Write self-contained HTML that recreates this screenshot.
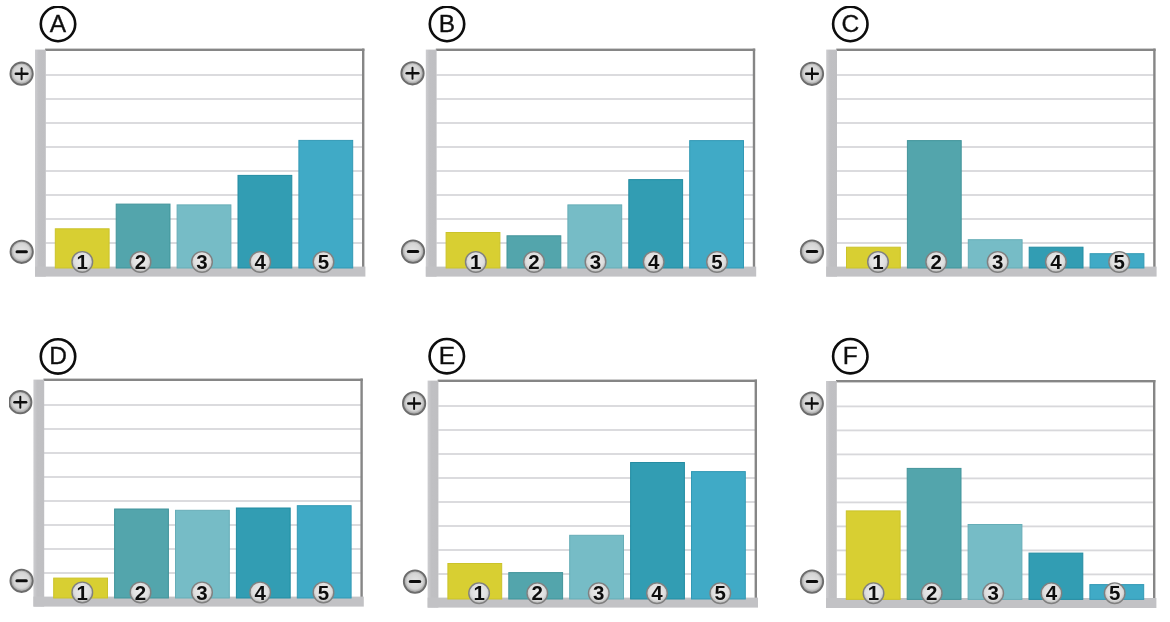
<!DOCTYPE html>
<html lang="en"><head><meta charset="utf-8"><title>Bar charts A-F</title>
<style>
html,body{margin:0;padding:0;background:#fff;}
body{width:1170px;height:622px;overflow:hidden;}
svg{display:block;}
text{font-family:"Liberation Sans",Arial,sans-serif;}
.lt{font-size:24.5px;fill:#111;stroke:#111;stroke-width:0.35px;text-anchor:middle;}
.nm{font-size:20.5px;font-weight:bold;fill:#111;text-anchor:middle;}
</style></head><body>
<svg width="1170" height="622" viewBox="0 0 1170 622">
<defs>
<radialGradient id="gb" cx="50%" cy="45%" r="55%">
<stop offset="0" stop-color="#eeeeee"/><stop offset="0.7" stop-color="#dedede"/><stop offset="1" stop-color="#b4b4b4"/>
</radialGradient>
<radialGradient id="gi" cx="50%" cy="48%" r="52%">
<stop offset="0" stop-color="#e4e4e4"/><stop offset="0.68" stop-color="#d4d4d4"/><stop offset="1" stop-color="#8e8e8e"/>
</radialGradient>
<linearGradient id="ax" x1="0" x2="1" y1="0" y2="0">
<stop offset="0" stop-color="#cdcdd0"/><stop offset="0.35" stop-color="#c0c0c3"/><stop offset="1" stop-color="#bfbfc2"/>
</linearGradient>
<filter id="soft" x="0" y="0" width="100%" height="100%"><feGaussianBlur stdDeviation="0.45"/></filter>
</defs>
<rect width="1170" height="622" fill="#fff"/>
<g filter="url(#soft)">

<g transform="translate(0.0,0.0)">
<rect x="45.6" y="74.1" width="317" height="1.8" fill="#d8d8db"/>
<rect x="45.6" y="98.1" width="317" height="1.8" fill="#d8d8db"/>
<rect x="45.6" y="122.1" width="317" height="1.8" fill="#d8d8db"/>
<rect x="45.6" y="146.1" width="317" height="1.8" fill="#d8d8db"/>
<rect x="45.6" y="170.1" width="317" height="1.8" fill="#d8d8db"/>
<rect x="45.6" y="194.1" width="317" height="1.8" fill="#d8d8db"/>
<rect x="45.6" y="218.1" width="317" height="1.8" fill="#d8d8db"/>
<rect x="45.6" y="242.1" width="317" height="1.8" fill="#d8d8db"/>
<rect x="45" y="48.6" width="319.4" height="2.4" fill="#868686"/>
<rect x="362.0" y="48.6" width="2.4" height="219" fill="#868686"/>
<rect x="35" y="49.6" width="10.8" height="227" fill="url(#ax)"/>
<rect x="35" y="266.6" width="330.4" height="10" fill="#c2c2c5"/>
<rect x="55.3" y="228.8" width="53.8" height="39.2" fill="#d8cf30" stroke="#cbc32c" stroke-width="1"/>
<rect x="116.2" y="204.1" width="53.8" height="63.9" fill="#52a5ac" stroke="#43949b" stroke-width="1"/>
<rect x="177.1" y="204.9" width="53.8" height="63.1" fill="#76bcc6" stroke="#66adb7" stroke-width="1"/>
<rect x="238.0" y="175.4" width="53.8" height="92.6" fill="#309db3" stroke="#258ca2" stroke-width="1"/>
<rect x="298.9" y="140.4" width="53.8" height="127.6" fill="#40aac6" stroke="#3399b5" stroke-width="1"/>
</g>
<circle cx="82.3" cy="261.9" r="10.3" fill="url(#gb)" stroke="#808080" stroke-width="1.4"/>
<text class="nm" x="82.3" y="269.1">1</text>
<circle cx="140.5" cy="261.9" r="10.3" fill="url(#gb)" stroke="#808080" stroke-width="1.4"/>
<text class="nm" x="140.5" y="269.1">2</text>
<circle cx="202.0" cy="261.9" r="10.3" fill="url(#gb)" stroke="#808080" stroke-width="1.4"/>
<text class="nm" x="202.0" y="269.1">3</text>
<circle cx="260.2" cy="261.9" r="10.3" fill="url(#gb)" stroke="#808080" stroke-width="1.4"/>
<text class="nm" x="260.2" y="269.1">4</text>
<circle cx="323.5" cy="261.9" r="10.3" fill="url(#gb)" stroke="#808080" stroke-width="1.4"/>
<text class="nm" x="323.5" y="269.1">5</text>
<circle cx="58.0" cy="24.0" r="17.2" fill="#fff" stroke="#0a0a0a" stroke-width="2.6"/>
<text class="lt" x="58.0" y="31.6">A</text>
<circle cx="21.6" cy="73.7" r="11.2" fill="url(#gi)" stroke="#6c6c6c" stroke-width="1.8"/>
<path d="M15.8 73.7H27.4" stroke="#111" stroke-width="2.5" stroke-linecap="round" fill="none"/>
<path d="M21.6 68.2V79.2" stroke="#111" stroke-width="2.0" stroke-linecap="round" fill="none"/>
<circle cx="21.7" cy="251.8" r="11.2" fill="url(#gi)" stroke="#6c6c6c" stroke-width="1.8"/>
<path d="M17.0 251.8H26.4" stroke="#111" stroke-width="3" stroke-linecap="round" fill="none"/>
<g transform="translate(390.8,0.0)">
<rect x="45.6" y="74.1" width="317" height="1.8" fill="#d8d8db"/>
<rect x="45.6" y="98.1" width="317" height="1.8" fill="#d8d8db"/>
<rect x="45.6" y="122.1" width="317" height="1.8" fill="#d8d8db"/>
<rect x="45.6" y="146.1" width="317" height="1.8" fill="#d8d8db"/>
<rect x="45.6" y="170.1" width="317" height="1.8" fill="#d8d8db"/>
<rect x="45.6" y="194.1" width="317" height="1.8" fill="#d8d8db"/>
<rect x="45.6" y="218.1" width="317" height="1.8" fill="#d8d8db"/>
<rect x="45.6" y="242.1" width="317" height="1.8" fill="#d8d8db"/>
<rect x="45" y="48.6" width="319.4" height="2.4" fill="#868686"/>
<rect x="362.0" y="48.6" width="2.4" height="219" fill="#868686"/>
<rect x="35" y="49.6" width="10.8" height="227" fill="url(#ax)"/>
<rect x="35" y="266.6" width="330.4" height="10" fill="#c2c2c5"/>
<rect x="55.3" y="232.5" width="53.8" height="35.5" fill="#d8cf30" stroke="#cbc32c" stroke-width="1"/>
<rect x="116.2" y="235.8" width="53.8" height="32.2" fill="#52a5ac" stroke="#43949b" stroke-width="1"/>
<rect x="177.1" y="204.9" width="53.8" height="63.1" fill="#76bcc6" stroke="#66adb7" stroke-width="1"/>
<rect x="238.0" y="179.6" width="53.8" height="88.4" fill="#309db3" stroke="#258ca2" stroke-width="1"/>
<rect x="298.9" y="140.6" width="53.8" height="127.4" fill="#40aac6" stroke="#3399b5" stroke-width="1"/>
</g>
<circle cx="475.8" cy="261.9" r="10.3" fill="url(#gb)" stroke="#808080" stroke-width="1.4"/>
<text class="nm" x="475.8" y="269.1">1</text>
<circle cx="534.0" cy="261.9" r="10.3" fill="url(#gb)" stroke="#808080" stroke-width="1.4"/>
<text class="nm" x="534.0" y="269.1">2</text>
<circle cx="595.5" cy="261.9" r="10.3" fill="url(#gb)" stroke="#808080" stroke-width="1.4"/>
<text class="nm" x="595.5" y="269.1">3</text>
<circle cx="653.7" cy="261.9" r="10.3" fill="url(#gb)" stroke="#808080" stroke-width="1.4"/>
<text class="nm" x="653.7" y="269.1">4</text>
<circle cx="717.0" cy="261.9" r="10.3" fill="url(#gb)" stroke="#808080" stroke-width="1.4"/>
<text class="nm" x="717.0" y="269.1">5</text>
<circle cx="447.0" cy="24.0" r="17.2" fill="#fff" stroke="#0a0a0a" stroke-width="2.6"/>
<text class="lt" x="447.0" y="31.6">B</text>
<circle cx="412.5" cy="73.3" r="11.2" fill="url(#gi)" stroke="#6c6c6c" stroke-width="1.8"/>
<path d="M406.7 73.3H418.3" stroke="#111" stroke-width="2.5" stroke-linecap="round" fill="none"/>
<path d="M412.5 67.8V78.8" stroke="#111" stroke-width="2.0" stroke-linecap="round" fill="none"/>
<circle cx="413.0" cy="251.6" r="11.2" fill="url(#gi)" stroke="#6c6c6c" stroke-width="1.8"/>
<path d="M408.3 251.6H417.7" stroke="#111" stroke-width="3" stroke-linecap="round" fill="none"/>
<g transform="translate(791.2,0.0)">
<rect x="45.6" y="74.1" width="317" height="1.8" fill="#d8d8db"/>
<rect x="45.6" y="98.1" width="317" height="1.8" fill="#d8d8db"/>
<rect x="45.6" y="122.1" width="317" height="1.8" fill="#d8d8db"/>
<rect x="45.6" y="146.1" width="317" height="1.8" fill="#d8d8db"/>
<rect x="45.6" y="170.1" width="317" height="1.8" fill="#d8d8db"/>
<rect x="45.6" y="194.1" width="317" height="1.8" fill="#d8d8db"/>
<rect x="45.6" y="218.1" width="317" height="1.8" fill="#d8d8db"/>
<rect x="45.6" y="242.1" width="317" height="1.8" fill="#d8d8db"/>
<rect x="45" y="48.6" width="319.4" height="2.4" fill="#868686"/>
<rect x="362.0" y="48.6" width="2.4" height="219" fill="#868686"/>
<rect x="35" y="49.6" width="10.8" height="227" fill="url(#ax)"/>
<rect x="35" y="266.6" width="330.4" height="10" fill="#c2c2c5"/>
<rect x="55.3" y="247.2" width="53.8" height="20.8" fill="#d8cf30" stroke="#cbc32c" stroke-width="1"/>
<rect x="116.2" y="140.6" width="53.8" height="127.4" fill="#52a5ac" stroke="#43949b" stroke-width="1"/>
<rect x="177.1" y="239.7" width="53.8" height="28.3" fill="#76bcc6" stroke="#66adb7" stroke-width="1"/>
<rect x="238.0" y="247.2" width="53.8" height="20.8" fill="#309db3" stroke="#258ca2" stroke-width="1"/>
<rect x="298.9" y="253.7" width="53.8" height="14.3" fill="#40aac6" stroke="#3399b5" stroke-width="1"/>
</g>
<circle cx="878.0" cy="261.9" r="10.3" fill="url(#gb)" stroke="#808080" stroke-width="1.4"/>
<text class="nm" x="878.0" y="269.1">1</text>
<circle cx="936.2" cy="261.9" r="10.3" fill="url(#gb)" stroke="#808080" stroke-width="1.4"/>
<text class="nm" x="936.2" y="269.1">2</text>
<circle cx="997.7" cy="261.9" r="10.3" fill="url(#gb)" stroke="#808080" stroke-width="1.4"/>
<text class="nm" x="997.7" y="269.1">3</text>
<circle cx="1055.9" cy="261.9" r="10.3" fill="url(#gb)" stroke="#808080" stroke-width="1.4"/>
<text class="nm" x="1055.9" y="269.1">4</text>
<circle cx="1119.2" cy="261.9" r="10.3" fill="url(#gb)" stroke="#808080" stroke-width="1.4"/>
<text class="nm" x="1119.2" y="269.1">5</text>
<circle cx="850.3" cy="24.0" r="17.2" fill="#fff" stroke="#0a0a0a" stroke-width="2.6"/>
<text class="lt" x="850.3" y="31.6">C</text>
<circle cx="812.0" cy="73.8" r="11.2" fill="url(#gi)" stroke="#6c6c6c" stroke-width="1.8"/>
<path d="M806.2 73.8H817.8" stroke="#111" stroke-width="2.5" stroke-linecap="round" fill="none"/>
<path d="M812.0 68.3V79.3" stroke="#111" stroke-width="2.0" stroke-linecap="round" fill="none"/>
<circle cx="812.0" cy="251.6" r="11.2" fill="url(#gi)" stroke="#6c6c6c" stroke-width="1.8"/>
<path d="M807.3 251.6H816.7" stroke="#111" stroke-width="3" stroke-linecap="round" fill="none"/>
<g transform="translate(-1.6,330.0)">
<rect x="45.6" y="74.1" width="317" height="1.8" fill="#d8d8db"/>
<rect x="45.6" y="98.1" width="317" height="1.8" fill="#d8d8db"/>
<rect x="45.6" y="122.1" width="317" height="1.8" fill="#d8d8db"/>
<rect x="45.6" y="146.1" width="317" height="1.8" fill="#d8d8db"/>
<rect x="45.6" y="170.1" width="317" height="1.8" fill="#d8d8db"/>
<rect x="45.6" y="194.1" width="317" height="1.8" fill="#d8d8db"/>
<rect x="45.6" y="218.1" width="317" height="1.8" fill="#d8d8db"/>
<rect x="45.6" y="242.1" width="317" height="1.8" fill="#d8d8db"/>
<rect x="45" y="48.6" width="319.4" height="2.4" fill="#868686"/>
<rect x="362.0" y="48.6" width="2.4" height="219" fill="#868686"/>
<rect x="35" y="49.6" width="10.8" height="227" fill="url(#ax)"/>
<rect x="35" y="266.6" width="330.4" height="10" fill="#c2c2c5"/>
<rect x="55.3" y="248.1" width="53.8" height="19.9" fill="#d8cf30" stroke="#cbc32c" stroke-width="1"/>
<rect x="116.2" y="179.0" width="53.8" height="89.0" fill="#52a5ac" stroke="#43949b" stroke-width="1"/>
<rect x="177.1" y="180.3" width="53.8" height="87.7" fill="#76bcc6" stroke="#66adb7" stroke-width="1"/>
<rect x="238.0" y="178.0" width="53.8" height="90.0" fill="#309db3" stroke="#258ca2" stroke-width="1"/>
<rect x="298.9" y="175.7" width="53.8" height="92.3" fill="#40aac6" stroke="#3399b5" stroke-width="1"/>
</g>
<circle cx="82.3" cy="592.4" r="10.3" fill="url(#gb)" stroke="#808080" stroke-width="1.4"/>
<text class="nm" x="82.3" y="599.6">1</text>
<circle cx="140.5" cy="592.4" r="10.3" fill="url(#gb)" stroke="#808080" stroke-width="1.4"/>
<text class="nm" x="140.5" y="599.6">2</text>
<circle cx="202.0" cy="592.4" r="10.3" fill="url(#gb)" stroke="#808080" stroke-width="1.4"/>
<text class="nm" x="202.0" y="599.6">3</text>
<circle cx="260.2" cy="592.4" r="10.3" fill="url(#gb)" stroke="#808080" stroke-width="1.4"/>
<text class="nm" x="260.2" y="599.6">4</text>
<circle cx="323.5" cy="592.4" r="10.3" fill="url(#gb)" stroke="#808080" stroke-width="1.4"/>
<text class="nm" x="323.5" y="599.6">5</text>
<circle cx="58.0" cy="356.4" r="17.2" fill="#fff" stroke="#0a0a0a" stroke-width="2.6"/>
<text class="lt" x="58.0" y="364.0">D</text>
<circle cx="20.3" cy="402.2" r="11.2" fill="url(#gi)" stroke="#6c6c6c" stroke-width="1.8"/>
<path d="M14.5 402.2H26.1" stroke="#111" stroke-width="2.5" stroke-linecap="round" fill="none"/>
<path d="M20.3 396.7V407.7" stroke="#111" stroke-width="2.0" stroke-linecap="round" fill="none"/>
<circle cx="21.6" cy="580.8" r="11.2" fill="url(#gi)" stroke="#6c6c6c" stroke-width="1.8"/>
<path d="M16.9 580.8H26.3" stroke="#111" stroke-width="3" stroke-linecap="round" fill="none"/>
<g transform="translate(392.6,331.0)">
<rect x="45.6" y="74.1" width="317" height="1.8" fill="#d8d8db"/>
<rect x="45.6" y="98.1" width="317" height="1.8" fill="#d8d8db"/>
<rect x="45.6" y="122.1" width="317" height="1.8" fill="#d8d8db"/>
<rect x="45.6" y="146.1" width="317" height="1.8" fill="#d8d8db"/>
<rect x="45.6" y="170.1" width="317" height="1.8" fill="#d8d8db"/>
<rect x="45.6" y="194.1" width="317" height="1.8" fill="#d8d8db"/>
<rect x="45.6" y="218.1" width="317" height="1.8" fill="#d8d8db"/>
<rect x="45.6" y="242.1" width="317" height="1.8" fill="#d8d8db"/>
<rect x="45" y="48.6" width="319.4" height="2.4" fill="#868686"/>
<rect x="362.0" y="48.6" width="2.4" height="219" fill="#868686"/>
<rect x="35" y="49.6" width="10.8" height="227" fill="url(#ax)"/>
<rect x="35" y="266.6" width="330.4" height="10" fill="#c2c2c5"/>
<rect x="55.3" y="232.5" width="53.8" height="35.5" fill="#d8cf30" stroke="#cbc32c" stroke-width="1"/>
<rect x="116.2" y="241.6" width="53.8" height="26.4" fill="#52a5ac" stroke="#43949b" stroke-width="1"/>
<rect x="177.1" y="204.3" width="53.8" height="63.7" fill="#76bcc6" stroke="#66adb7" stroke-width="1"/>
<rect x="238.0" y="131.5" width="53.8" height="136.5" fill="#309db3" stroke="#258ca2" stroke-width="1"/>
<rect x="298.9" y="140.6" width="53.8" height="127.4" fill="#40aac6" stroke="#3399b5" stroke-width="1"/>
</g>
<circle cx="479.1" cy="593.2" r="10.3" fill="url(#gb)" stroke="#808080" stroke-width="1.4"/>
<text class="nm" x="479.1" y="600.4">1</text>
<circle cx="537.3" cy="593.2" r="10.3" fill="url(#gb)" stroke="#808080" stroke-width="1.4"/>
<text class="nm" x="537.3" y="600.4">2</text>
<circle cx="598.8" cy="593.2" r="10.3" fill="url(#gb)" stroke="#808080" stroke-width="1.4"/>
<text class="nm" x="598.8" y="600.4">3</text>
<circle cx="657.0" cy="593.2" r="10.3" fill="url(#gb)" stroke="#808080" stroke-width="1.4"/>
<text class="nm" x="657.0" y="600.4">4</text>
<circle cx="720.3" cy="593.2" r="10.3" fill="url(#gb)" stroke="#808080" stroke-width="1.4"/>
<text class="nm" x="720.3" y="600.4">5</text>
<circle cx="446.8" cy="356.2" r="17.2" fill="#fff" stroke="#0a0a0a" stroke-width="2.6"/>
<text class="lt" x="446.8" y="363.8">E</text>
<circle cx="414.1" cy="403.4" r="11.2" fill="url(#gi)" stroke="#6c6c6c" stroke-width="1.8"/>
<path d="M408.3 403.4H419.9" stroke="#111" stroke-width="2.5" stroke-linecap="round" fill="none"/>
<path d="M414.1 397.9V408.9" stroke="#111" stroke-width="2.0" stroke-linecap="round" fill="none"/>
<circle cx="415.0" cy="581.6" r="11.2" fill="url(#gi)" stroke="#6c6c6c" stroke-width="1.8"/>
<path d="M410.3 581.6H419.7" stroke="#111" stroke-width="3" stroke-linecap="round" fill="none"/>
<g transform="translate(791.0,331.4)">
<rect x="45.6" y="74.1" width="317" height="1.8" fill="#d8d8db"/>
<rect x="45.6" y="98.1" width="317" height="1.8" fill="#d8d8db"/>
<rect x="45.6" y="122.1" width="317" height="1.8" fill="#d8d8db"/>
<rect x="45.6" y="146.1" width="317" height="1.8" fill="#d8d8db"/>
<rect x="45.6" y="170.1" width="317" height="1.8" fill="#d8d8db"/>
<rect x="45.6" y="194.1" width="317" height="1.8" fill="#d8d8db"/>
<rect x="45.6" y="218.1" width="317" height="1.8" fill="#d8d8db"/>
<rect x="45.6" y="242.1" width="317" height="1.8" fill="#d8d8db"/>
<rect x="45" y="48.6" width="319.4" height="2.4" fill="#868686"/>
<rect x="362.0" y="48.6" width="2.4" height="219" fill="#868686"/>
<rect x="35" y="49.6" width="10.8" height="227" fill="url(#ax)"/>
<rect x="35" y="266.6" width="330.4" height="10" fill="#c2c2c5"/>
<rect x="55.3" y="179.5" width="53.8" height="88.5" fill="#d8cf30" stroke="#cbc32c" stroke-width="1"/>
<rect x="116.2" y="137.0" width="53.8" height="131.0" fill="#52a5ac" stroke="#43949b" stroke-width="1"/>
<rect x="177.1" y="193.1" width="53.8" height="74.9" fill="#76bcc6" stroke="#66adb7" stroke-width="1"/>
<rect x="238.0" y="221.7" width="53.8" height="46.3" fill="#309db3" stroke="#258ca2" stroke-width="1"/>
<rect x="298.9" y="253.2" width="53.8" height="14.8" fill="#40aac6" stroke="#3399b5" stroke-width="1"/>
</g>
<circle cx="873.5" cy="593.2" r="10.3" fill="url(#gb)" stroke="#808080" stroke-width="1.4"/>
<text class="nm" x="873.5" y="600.4">1</text>
<circle cx="931.7" cy="593.2" r="10.3" fill="url(#gb)" stroke="#808080" stroke-width="1.4"/>
<text class="nm" x="931.7" y="600.4">2</text>
<circle cx="993.2" cy="593.2" r="10.3" fill="url(#gb)" stroke="#808080" stroke-width="1.4"/>
<text class="nm" x="993.2" y="600.4">3</text>
<circle cx="1051.4" cy="593.2" r="10.3" fill="url(#gb)" stroke="#808080" stroke-width="1.4"/>
<text class="nm" x="1051.4" y="600.4">4</text>
<circle cx="1114.7" cy="593.2" r="10.3" fill="url(#gb)" stroke="#808080" stroke-width="1.4"/>
<text class="nm" x="1114.7" y="600.4">5</text>
<circle cx="850.3" cy="356.2" r="17.2" fill="#fff" stroke="#0a0a0a" stroke-width="2.6"/>
<text class="lt" x="850.3" y="363.8">F</text>
<circle cx="811.8" cy="403.6" r="11.2" fill="url(#gi)" stroke="#6c6c6c" stroke-width="1.8"/>
<path d="M806.0 403.6H817.6" stroke="#111" stroke-width="2.5" stroke-linecap="round" fill="none"/>
<path d="M811.8 398.1V409.1" stroke="#111" stroke-width="2.0" stroke-linecap="round" fill="none"/>
<circle cx="812.0" cy="581.6" r="11.2" fill="url(#gi)" stroke="#6c6c6c" stroke-width="1.8"/>
<path d="M807.3 581.6H816.7" stroke="#111" stroke-width="3" stroke-linecap="round" fill="none"/>
</g></svg></body></html>
